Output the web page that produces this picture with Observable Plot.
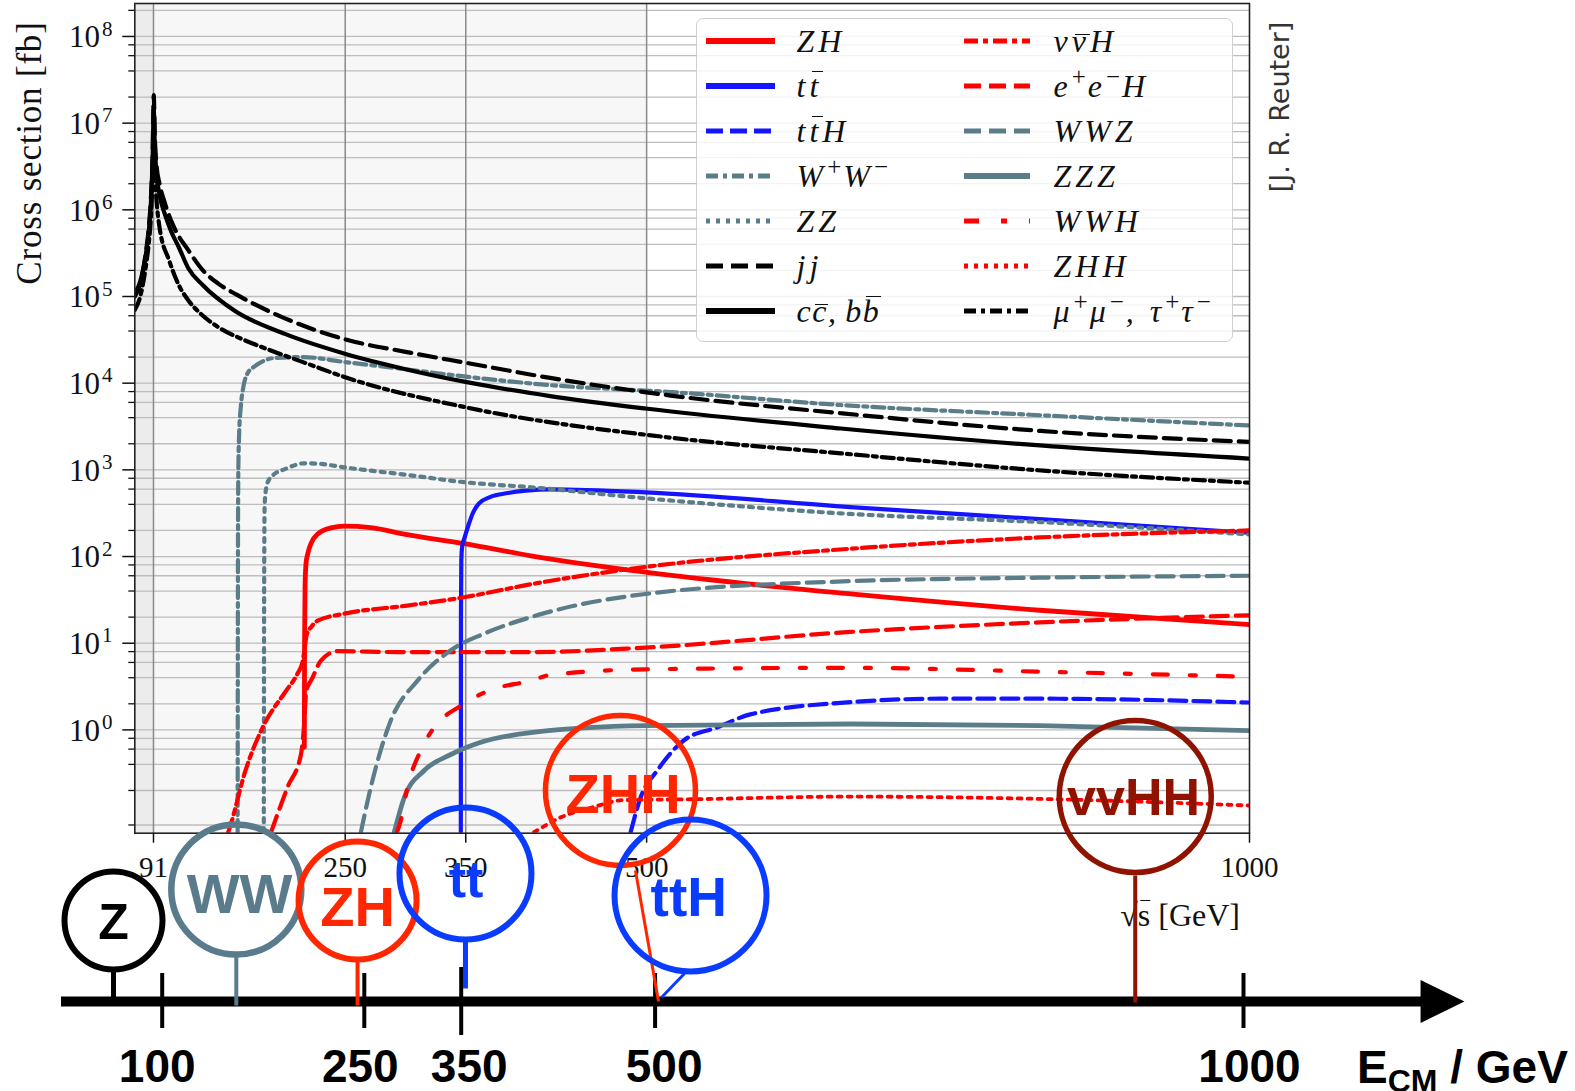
<!DOCTYPE html>
<html>
<head>
<meta charset="utf-8">
<script src="https://cdn.jsdelivr.net/npm/d3@7"></script>
<script src="https://cdn.jsdelivr.net/npm/@observablehq/plot@0.6"></script>
<style>
  html, body { margin:0; padding:0; background:#fff; overflow:hidden; }
  #wrap { position:relative; width:1575px; height:1091px; overflow:hidden; background:#fff; }
  .abs { position:absolute; white-space:nowrap; line-height:1; }
  #legend { position:absolute; left:696px; top:18px; width:537px; height:324px; box-sizing:border-box;
            border:1.5px solid #d0d0d0; border-radius:7px; background:rgba(255,255,255,0.82); }
  .lg-text { position:absolute; font-family:"Liberation Serif","DejaVu Serif",serif; font-style:italic;
             font-size:32px; letter-spacing:4px; line-height:1; transform:translateY(-50%); white-space:nowrap; color:#111; }
  .lg-text.tight { letter-spacing:1.5px; }
  .ov { position:relative; display:inline-block; }
  .ov::before { content:""; position:absolute; left:18%; right:-2%; border-top:1.6px solid currentColor; }
  .ov.hi::before { top:0.04em; }
  .ov.lo::before { top:0.3em; }
  .lg-text sup { font-size:0.78em; position:relative; top:-0.45em; vertical-align:0; font-style:normal; letter-spacing:2px; }
</style>
</head>
<body>
<div id="wrap"></div>
<script>
// ---------------- data ----------------
const energyTicks = [91, 250, 350, 500, 1000];
const verticalGridEnergies = [91, 250, 350, 500];
const labelExponents = [0, 1, 2, 3, 4, 5, 6, 7, 8];
const minorMultipliers = [2, 4, 6, 8];
const xDomain = [75.5, 1000];
const yDomain = [0.0643, 2.4e8];
const shadedBands = [[75.5, 91], [91, 500]];

// cross sections [fb] vs sqrt(s) [GeV]
const ZH   = [[216.1,0.63],[216.3,10],[216.7,45],[217.5,83],[218.9,107],[222,145],[227.2,182],[238.2,214],[249.2,224],[271,216],[300,180],[348.6,141],[404,102],[499,66],[669,37],[826,24],[1000,16.4]];
const TT   = [[345.9,0.066],[346.0,20],[346.3,90],[347,130],[349,165],[352,225],[356,320],[361,410],[370,485],[385,540],[400,575],[420,595],[499,550],[669,372],[826,270],[1000,188]];
const TTH  = [[486.7,0.066],[495,0.166],[508.8,0.34],[531,0.76],[558.6,1.07],[586,1.51],[669,2.09],[743.6,2.29],[826,2.29],[1000,2.07]];
const WW   = [[160.8,0.066],[161.0,30],[161.3,800],[162,2500],[163.5,5500],[165.5,9000],[169,13000],[174.5,15500],[182,18000],[191,19500],[215,20000],[250,17500],[300,14500],[352,11800],[420,9500],[520,7900],[661,5600],[829,4250],[1000,3250]];
const ZZ   = [[182.5,0.066],[182.8,50],[183.2,400],[184.5,620],[187,780],[191,890],[200,1020],[216,1190],[230,1170],[249,1070],[300,880],[349,720],[404,630],[499,470],[669,310],[826,250],[1000,180]];
const JJ   = [[75.5,1.0e5],[80,1.4e5],[85,3.5e5],[87,6.0e5],[89,1.5e6],[90.3,4.5e6],[91.2,2.1e7],[92.1,7.0e6],[93.5,3.3e6],[96,2.0e6],[100,1.25e6],[108,6.3e5],[120,3.4e5],[132,2.0e5],[145,1.4e5],[160,1.05e5],[200,5.6e4],[250,3.2e4],[300,2.3e4],[352,1.7e4],[420,1.15e4],[520,7.2e3],[661,4.5e3],[829,2.8e3],[1000,2.1e3]];
const CCBB = [[75.5,1.1e5],[80,1.5e5],[85,3.3e5],[87,5.5e5],[89,1.3e6],[90.3,4.0e6],[91.2,1.45e7],[92.1,5.5e6],[93.5,2.6e6],[96,1.5e6],[100.9,8.5e5],[106,5.5e5],[112,3.7e5],[120,2.1e5],[132,1.35e5],[158,6.9e4],[200,3.7e4],[249,2.2e4],[300,1.45e4],[352,1.02e4],[420,7.1e3],[499,5.1e3],[661,3.0e3],[829,1.9e3],[1000,1.35e3]];
const NNH  = [[153,0.066],[155.3,0.083],[166.4,0.31],[183,1.17],[200,2.7],[210.6,4.5],[214.5,6.0],[216.3,8.5],[218,12.5],[222,15.5],[227.2,18.2],[249.2,21.9],[300,27],[348.6,33.9],[404,47.9],[499,75.9],[669,123],[826,166],[1000,200]];
const EEH  = [[188.5,0.066],[202.3,0.22],[213.3,0.52],[216,1.2],[217.5,2.6],[220,3.4],[221.6,3.7],[229.9,6.3],[243.7,8.1],[293.4,7.9],[404,7.9],[499,8.9],[669,13.5],[826,17.4],[1000,21]];
const WWZ  = [[263,0.066],[271.3,0.22],[287.9,1.29],[310,3.7],[337.6,8.3],[365.2,12.9],[404,20],[499,37],[669,52],[826,57],[1000,60]];
const ZZZ  = [[290.7,0.066],[299,0.166],[315.5,0.34],[337.6,0.52],[362.5,0.72],[404,0.93],[499,1.12],[669,1.17],[826,1.12],[1000,0.98]];
const WWH  = [[293,0.066],[296,0.089],[301.7,0.22],[312.7,0.58],[323.8,1.07],[346,1.9],[368,2.8],[404,3.7],[420,4.3],[499,5.0],[669,5.2],[826,4.7],[1000,4.1]];
const ZHH  = [[406.6,0.066],[428.8,0.098],[456,0.129],[481,0.155],[531,0.158],[669,0.17],[826,0.16],[1000,0.134]];
const MUMU = [[75.5,7e4],[80,1.0e5],[85,2.4e5],[87,4.0e5],[89,9e5],[90.3,2.6e6],[91.2,7e6],[92.1,2.8e6],[93.5,1.3e6],[96,6.3e5],[104,2.6e5],[112,1.35e5],[120,9.0e4],[132,6.0e4],[145,4.4e4],[165,3.2e4],[186,2.45e4],[215,1.75e4],[250,1.17e4],[352,5.2e3],[520,2.35e3],[661,1.55e3],[829,980],[1000,710]];

// timeline (schematic energy axis below)
const timelineTicks = [100, 250, 350, 500, 1000];
const timelineKnots = [91, 100, 250, 350, 500, 1000];
const processLabels = ["Z", "WW", "ZH", "tt", "ZHH", "ttH", "vvHH"];
const processEnergy = [91, 155, 245, 353.3, 473.2, 530.1, 908];
const stemTopEnergy = [91, 155, 245, 353.3, 484.8, 525, 908];
const stemBottomEnergy = [91, 155, 245, 353.3, 502.9, 505.4, 908];

// ---------------- styles / layout ----------------
const RED = "#ff0000", BLUE = "#1414ff", SLATE = "#5b7d8a", BLACK = "#000000";
const seriesData = {ZH, TT, TTH, WW, ZZ, JJ, CCBB, NNH, EEH, WWZ, ZZZ, WWH, ZHH, MUMU};
const lineStyles = {
  ZH:   {color: RED,   width: 4.8, dash: null},
  TT:   {color: BLUE,  width: 4.2, dash: null},
  TTH:  {color: BLUE,  width: 4.2, dash: "17,7"},
  WW:   {color: SLATE, width: 4.2, dash: "12,5,4,5"},
  ZZ:   {color: SLATE, width: 4.2, dash: "4,6"},
  JJ:   {color: BLACK, width: 4.2, dash: "17,8"},
  CCBB: {color: BLACK, width: 4.2, dash: null},
  NNH:  {color: RED,   width: 4.2, dash: "14,5,5,5"},
  EEH:  {color: RED,   width: 4.2, dash: "17,8"},
  WWZ:  {color: SLATE, width: 4.2, dash: "17,8"},
  ZZZ:  {color: SLATE, width: 4.8, dash: null},
  WWH:  {color: RED,   width: 4.2, dash: "15,22,6,22"},
  ZHH:  {color: RED,   width: 3.8, dash: "4,6"},
  MUMU: {color: BLACK, width: 4.2, dash: "12,5,4,5"}
};
const drawOrder = ["ZH","TT","TTH","WW","ZZ","JJ","CCBB","NNH","EEH","WWZ","ZZZ","WWH","ZHH","MUMU"];
const legendColumns = [["ZH","TT","TTH","WW","ZZ","JJ","CCBB"], ["NNH","EEH","WWZ","ZZZ","WWH","ZHH","MUMU"]];
const legendLabels = {
  ZH: "ZH",
  TT: "t<span class='ov hi'>t</span>",
  TTH: "t<span class='ov hi'>t</span>H",
  WW: "W<sup>+</sup>W<sup>−</sup>",
  ZZ: "ZZ",
  JJ: "jj",
  CCBB: "c<span class='ov lo'>c</span>,&thinsp;b<span class='ov hi'>b</span>",
  NNH: "ν<span class='ov lo'>ν</span>H",
  EEH: "e<sup>+</sup>e<sup>−</sup>H",
  WWZ: "WWZ",
  ZZZ: "ZZZ",
  WWH: "WWH",
  ZHH: "ZHH",
  MUMU: "μ<sup>+</sup>μ<sup>−</sup>, τ<sup>+</sup>τ<sup>−</sup>"
};
const procStyle = {
  Z:    {h: 81,  r: 49, color: "#000000", sw: 6,   font: 50, textE: 91,    textH: 79,    stemTopH: 32,  stemBotH: 4,  stemW: 5},
  WW:   {h: 112, r: 65, color: "#5a7b8c", sw: 6.5, font: 56, textE: 157.4, textH: 106,   stemTopH: 47,  stemBotH: -4, stemW: 4},
  ZH:   {h: 101, r: 59, color: "#ff2600", sw: 6,   font: 56, textE: 245,   textH: 93,    stemTopH: 42,  stemBotH: -4, stemW: 4},
  tt:   {h: 128, r: 66, color: "#0a3cff", sw: 6,   font: 52, textE: 353.8, textH: 121,   stemTopH: 62,  stemBotH: 13, stemW: 5},
  ZHH:  {h: 211, r: 75, color: "#ff2600", sw: 5.5, font: 56, textE: 475.2, textH: 206,   stemTopH: 131, stemBotH: 0,  stemW: 3},
  ttH:  {h: 106, r: 76, color: "#0a3cff", sw: 6,   font: 55, textE: 528.6, textH: 103.5, stemTopH: 28,  stemBotH: 4,  stemW: 3},
  vvHH: {h: 205, r: 76, color: "#8f1300", sw: 5.5, font: 52, textE: 906.6, textH: 203,   stemTopH: 126, stemBotH: -1, stemW: 4}
};
const timelinePixels = [113, 161.7, 363.8, 460.7, 654.6, 1243];
const timelineLabelDx = [-5, -4, 8, 9, 6];

// ---------------- build ----------------
const wrap = document.getElementById("wrap");
const majors = labelExponents.map(k => 10 ** k);
const minors = [];
for (let k = -2; k <= 8; k++) for (const m of minorMultipliers) {
  const v = m * 10 ** k;
  if (v >= yDomain[0] && v <= yDomain[1]) minors.push(v);
}

const chart = Plot.plot({
  width: 1575, height: 900,
  marginTop: 3, marginBottom: 67.3, marginLeft: 134.3, marginRight: 326,
  x: {domain: xDomain},
  y: {type: "log", domain: yDomain},
  style: {fontFamily: "'Liberation Serif','DejaVu Serif',serif", background: "#fff", color: "#111"},
  marks: [
    Plot.rect([shadedBands[0]], {x1: d => d[0], x2: d => d[1], y1: yDomain[0], y2: yDomain[1], fill: "#ececec"}),
    Plot.rect([shadedBands[1]], {x1: d => d[0], x2: d => d[1], y1: yDomain[0], y2: yDomain[1], fill: "#f7f7f7"}),
    Plot.gridY(minors.concat(majors), {stroke: "#bdbdbd", strokeOpacity: 1, strokeWidth: 1.3}),
    Plot.gridX(verticalGridEnergies, {stroke: "#8a8a8a", strokeOpacity: 1, strokeWidth: 1.5}),
    ...drawOrder.map(k => Plot.line(seriesData[k], {
      x: d => d[0], y: d => d[1], stroke: lineStyles[k].color, strokeWidth: lineStyles[k].width,
      strokeDasharray: lineStyles[k].dash, curve: "monotone-x", clip: true
    })),
    Plot.frame({stroke: "#222", strokeWidth: 1.6}),
    Plot.axisX(energyTicks, {tickSize: 10, tickPadding: 13, fontSize: 29, tickFormat: d => String(d), label: null, color: "#111", strokeWidth: 1.5}),
    Plot.axisY(majors, {tickSize: 12, tickFormat: () => "", label: null, color: "#111", strokeWidth: 1.5}),
    Plot.axisY(minors, {tickSize: 6, tickFormat: () => "", label: null, color: "#111", strokeWidth: 1.3}),
    Plot.text(majors, {y: d => d, frameAnchor: "left", text: () => "10", textAnchor: "end", lineAnchor: "middle", dx: -34.8, dy: 1, fontSize: 31, fill: "#111"}),
    Plot.text(majors, {y: d => d, frameAnchor: "left", text: d => String(Math.round(Math.log10(d))), textAnchor: "end", lineAnchor: "middle", dx: -22.3, dy: -7.5, fontSize: 21, fill: "#111"})
  ]
});
chart.style.position = "absolute"; chart.style.left = "0px"; chart.style.top = "0px";
wrap.appendChild(chart);

// axis titles & credit (HTML text)
function addText(html, css) {
  const d = document.createElement("div");
  d.className = "abs";
  d.innerHTML = html;
  Object.assign(d.style, css);
  wrap.appendChild(d);
  return d;
}
addText("Cross section [fb]", {left: "29px", top: "153px", transform: "translate(-50%,-50%) rotate(-90deg)",
  fontFamily: "'Liberation Serif','DejaVu Serif',serif", fontSize: "35px", color: "#111", letterSpacing: "0.8px"});
addText("√<span class='ov hi'>s</span> [GeV]", {left: "1240px", top: "915px", transform: "translate(-100%,-50%)",
  fontFamily: "'Liberation Serif','DejaVu Serif',serif", fontSize: "32px", color: "#111"});
addText("[J. R. Reuter]", {left: "1279px", top: "107px", transform: "translate(-50%,-50%) rotate(-90deg)",
  fontFamily: "'DejaVu Sans',sans-serif", fontSize: "27px", color: "#333"});

// legend
const legend = d3.select(wrap).append("div").attr("id", "legend");
legendColumns.forEach((col, c) => col.forEach((key, i) => {
  const s = lineStyles[key];
  const cy = 21.5 + 45 * i;
  const x0 = c ? 266.5 : 8.5, len = c ? 66 : 69, tx = c ? 356.5 : 99.5;
  const thick = (key === "ZH" || key === "ZZZ" || key === "CCBB" || key === "TT") ? 5.8 : 5.2;
  const sv = legend.append("svg").attr("width", len + 6).attr("height", 14)
    .style("position", "absolute").style("left", x0 + "px").style("top", (cy - 7) + "px");
  sv.append("line").attr("x1", 0).attr("x2", len).attr("y1", 7).attr("y2", 7)
    .attr("stroke", s.color).attr("stroke-width", thick).attr("stroke-dasharray", s.dash);
  legend.append("div").attr("class", key === "CCBB" ? "lg-text tight" : "lg-text")
    .style("left", tx + "px").style("top", cy + "px").html(legendLabels[key]);
}));

// timeline overlay
const toTimeline = d3.scaleLinear().domain(timelineKnots).range(timelinePixels);
const arrowHead = {draw(ctx, size) {
  const a = Math.sqrt(size / Math.PI);
  ctx.moveTo(1.54 * a, 0); ctx.lineTo(-0.77 * a, -1.13 * a); ctx.lineTo(-0.77 * a, 1.13 * a); ctx.closePath();
}};
const overlayMarks = [
  Plot.ruleY([0], {stroke: "#000", strokeWidth: 10}),
  Plot.dot([0], {y: d => d, frameAnchor: "right", symbol: arrowHead, r: 19, fill: "#000", stroke: "none"}),
  Plot.ruleX(timelineTicks, {x: d => d, y1: d => d === 350 ? -34 : -27, y2: d => d === 350 ? 34 : 28, stroke: "#000", strokeWidth: 4}),
  ...timelineTicks.map((t, i) => Plot.text([t], {x: d => d, y: -66, text: d => String(d), dx: timelineLabelDx[i],
    fontSize: 46, fontWeight: "bold", fill: "#000", lineAnchor: "middle"}))
];
processLabels.forEach((p, i) => {
  const st = procStyle[p];
  overlayMarks.push(
    Plot.link([p], {x1: stemTopEnergy[i], y1: st.stemTopH, x2: stemBottomEnergy[i], y2: st.stemBotH, stroke: st.color, strokeWidth: st.stemW}),
    Plot.dot([p], {x: processEnergy[i], y: st.h, r: st.r, stroke: st.color, strokeWidth: st.sw, fill: "none"}),
    Plot.text([p], {x: st.textE, y: st.textH, text: d => d, fill: st.color, fontSize: st.font, fontWeight: "bold", lineAnchor: "middle"})
  );
});
const overlay = Plot.plot({
  width: 1575, height: 1091,
  marginTop: 0, marginBottom: 0, marginLeft: 61, marginRight: 140.3,
  x: {transform: toTimeline, domain: [0, 1575], range: [0, 1575], axis: null},
  y: {domain: [0, 1001], range: [1001, 0], axis: null},
  r: {type: "identity"},
  style: {background: "transparent", fontFamily: "'Liberation Sans',Arial,sans-serif", overflow: "visible"},
  marks: overlayMarks
});
overlay.style.position = "absolute"; overlay.style.left = "0px"; overlay.style.top = "0px";
overlay.style.pointerEvents = "none";
wrap.appendChild(overlay);

addText("E<span style='font-size:32px;position:relative;top:0.28em'>CM</span> / GeV", {left: "1357px", top: "1067px", transform: "translateY(-50%)",
  fontFamily: "'Liberation Sans',Arial,sans-serif", fontSize: "46px", fontWeight: "bold", color: "#000"});
</script>
</body>
</html>
